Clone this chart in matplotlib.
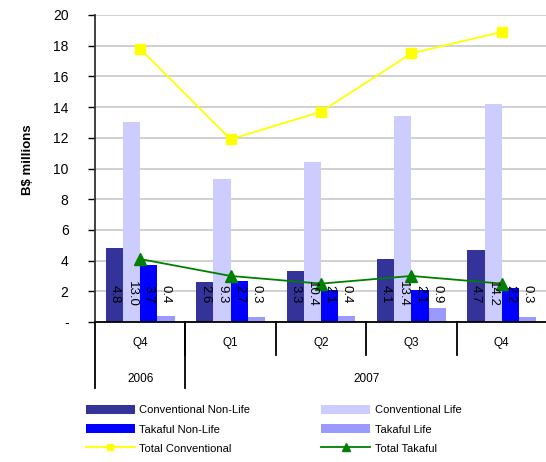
import matplotlib
matplotlib.use("Agg")
import matplotlib.pyplot as plt
from matplotlib.lines import Line2D
from matplotlib.transforms import blended_transform_factory
import numpy as np

plt.rcParams["font.family"] = ["Liberation Sans", "DejaVu Sans"]

quarters = ["Q4", "Q1", "Q2", "Q3", "Q4"]
years = ["2006", "2007"]
year_spans = [(0, 1), (1, 5)]

conv_nonlife = [4.8, 2.6, 3.3, 4.1, 4.7]
conv_life = [13.0, 9.3, 10.4, 13.4, 14.2]
takaful_nonlife = [3.7, 2.7, 2.1, 2.1, 2.2]
takaful_life = [0.4, 0.3, 0.4, 0.9, 0.3]
total_conv = [a + b for a, b in zip(conv_nonlife, conv_life)]
total_takaful = [a + b for a, b in zip(takaful_nonlife, takaful_life)]

bar_series = [
    ("Conventional Non-Life", conv_nonlife, "#333399"),
    ("Conventional Life", conv_life, "#CCCCFF"),
    ("Takaful Non-Life", takaful_nonlife, "#0000FF"),
    ("Takaful Life", takaful_life, "#9999FF"),
]

W, H = 546, 462
fig = plt.figure(figsize=(W / 100, H / 100), dpi=100)
ax = fig.add_axes([95 / W, 1 - 322 / H, 452 / W, 307 / H])

x = np.arange(len(quarters))
bw = 0.19
handles = {}
for i, (name, vals, col) in enumerate(bar_series):
    off = (i - 1.5) * bw
    bars = ax.bar(x + off, vals, width=bw, color=col, zorder=2, label=name)
    handles[name] = bars
    for xi, v in zip(x, vals):
        ax.text(xi + off, 1.8, f"{v:.1f}", rotation=-90, ha="center", va="center",
                fontsize=9.5, color="black", zorder=5)

l1, = ax.plot(x, total_conv, color="#FFFF00", lw=1.3, marker="s", markersize=7,
              markeredgecolor="#FFFF00", zorder=4, label="Total Conventional")
l2, = ax.plot(x, total_takaful, color="#008000", lw=1.3, marker="^", markersize=8,
              markeredgecolor="#008000", zorder=4, label="Total Takaful")

ax.set_xlim(-0.5, len(quarters) - 0.5)
ax.set_ylim(0, 20)
yt = np.arange(0, 21, 2)
ax.set_yticks(yt)
ax.set_yticklabels(["-"] + [str(v) for v in yt[1:]], fontsize=10)
ax.tick_params(axis="y", direction="out", length=5, width=1, pad=14, colors="black")
ax.set_xticks([])
ax.yaxis.grid(True, color="#C8C8C8", lw=1.2, zorder=0)
ax.set_axisbelow(True)
for s in ("top", "right"):
    ax.spines[s].set_visible(False)
ax.spines["left"].set_color("#333333")
ax.spines["left"].set_linewidth(1.3)
ax.spines["bottom"].set_color("black")
ax.spines["bottom"].set_linewidth(1.3)

# two-level category axis
tr = blended_transform_factory(ax.transData, ax.transAxes)
px = 1 / 307.0
for i, q in enumerate(quarters):
    ax.text(i, -21 * px, q, transform=tr, ha="center", va="center", fontsize=8.5)
for b in range(1, len(quarters)):
    ax.add_line(Line2D([b - 0.5, b - 0.5], [0, -33 * px], transform=tr,
                       color="black", lw=1.3, clip_on=False))
for (s, e), yr in zip(year_spans, years):
    ax.text((s + e - 1) / 2, -57 * px, yr, transform=tr, ha="center", va="center",
            fontsize=8.5)
for b in [s for s, e in year_spans]:
    ax.add_line(Line2D([b - 0.5, b - 0.5], [0, -66 * px], transform=tr,
                       color="black", lw=1.3, clip_on=False))

fig.text(28 / W, 1 - 160 / H, "B\\$ millions", rotation=90, ha="center", va="center",
         fontsize=9.5, fontweight="bold")

hl = [handles["Conventional Non-Life"], handles["Takaful Non-Life"], l1,
      handles["Conventional Life"], handles["Takaful Life"], l2]
labs = ["Conventional Non-Life", "Takaful Non-Life", "Total Conventional",
        "Conventional Life", "Takaful Life", "Total Takaful"]
fig.legend(hl, labs, loc="upper left", bbox_to_anchor=(86 / W, 1 - 405 / H), ncol=2,
           frameon=False, fontsize=8, handlelength=4.4, handleheight=0.9,
           handletextpad=0.4, columnspacing=6.4, labelspacing=0.78, numpoints=1,
           markerscale=0.7, borderaxespad=0, borderpad=0)

fig.savefig("out.png", dpi=100)
